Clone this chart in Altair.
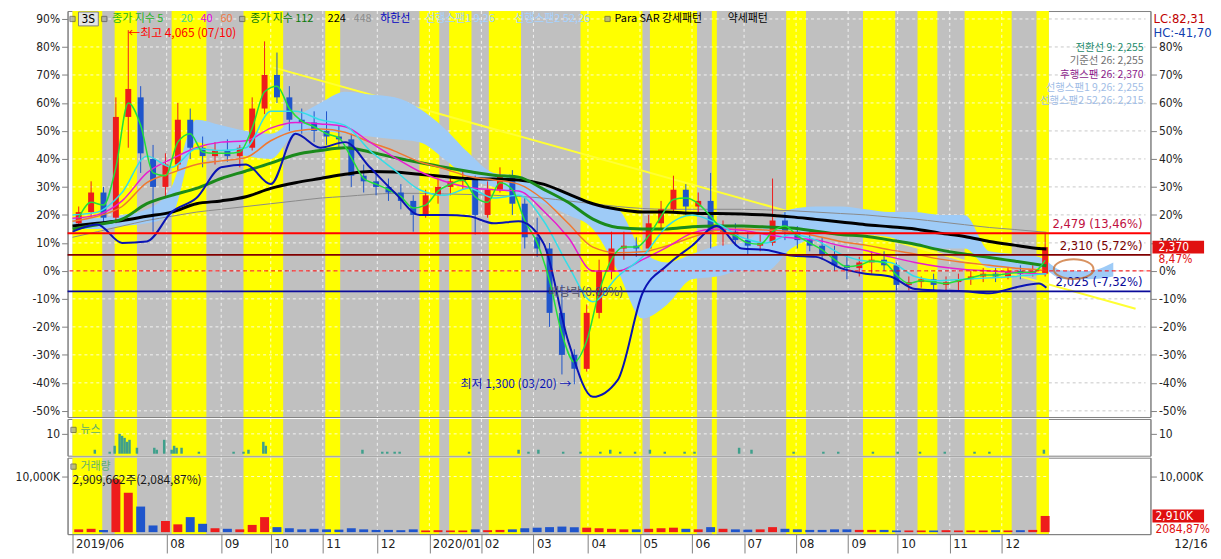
import altair as alt
import pandas as pd

# ---------------- layout ----------------
W, H1, H2, H3 = 1091, 409, 37, 77
LEFT_EXT, RIGHT_EXT = 59, 55
XDOM = [0, 433]
Y1DOM = [-52.2, 92.84]
Y2DOM = [-1, 17.5]
Y3DOM = [-357, 13393]
AX_FONT = "Liberation Sans Narrow, DejaVu Sans Condensed, Liberation Sans, sans-serif"
KR_FONT = "Noto Sans CJK KR"

# ---------------- data (percent vs base price 2,185) ----------------
candle_open = [17, 21, 28, 19, 55, 62, 40, 30, 38, 54, 44, 41, 43, 41, 44, 58, 70, 62, 54, 53,
               50, 48, 47, 34, 32, 30, 28, 25, 20, 27, 30, 32, 33, 20, 29, 34, 24, 12, 8, -15,
               -30, -35, -15, 0, 8, 9, 8, 17, 22, 29, 23, 25, 14, 14, 11, 9, 10, 18, 14, 11,
               9, 6, 2, 1, 3, 4, 2, -5, -4, -3, -5, -4, -3, -2, -1, -2, 0, -1, -1]
candle_high = [23, 32, 30, 62, 86, 66, 45, 42, 60, 58, 48, 46, 47, 45, 62, 82, 78, 66, 58, 57,
               57, 52, 49, 38, 36, 33, 31, 27, 29, 33, 34, 36, 34, 32, 37, 36, 26, 19, 10, -5,
               -28, -12, 4, 14, 14, 12, 20, 25, 34, 31, 28, 35, 18, 17, 14, 13, 33, 21, 16, 14,
               12, 9, 6, 5, 7, 7, 3, -2, -2, -1, -2, -1, 0, 1, 1, 1, 2, 2, 13.46]
candle_low = [15, 19, 17, 17, 44, 35, 14, 26, 36, 40, 37, 38, 39, 37, 43, 56, 60, 50, 49, 46,
              45, 44, 30, 28, 27, 25, 22, 14, 19, 24, 27, 29, 13, 19, 28, 20, 8, 5, -20, -37,
              -40.5, -36, -17, -3, 4, 5, 7, 15, 21, 20, 20, 8, 9, 9, 6, 7, 9, 11, 8, 7,
              4, 0, -3, -2, -1, 0, -7, -7, -6, -7, -7, -7, -5, -4, -4, -3, -3, -2, -2]
candle_close = [21, 28, 19, 55, 65, 42, 30, 38, 54, 44, 41, 43, 41, 44, 58, 70, 62, 54, 53, 50,
                48, 47, 34, 32, 30, 28, 25, 20, 27, 30, 32, 33, 20, 29, 34, 24, 12, 8, -15, -30,
                -35, -15, 0, 8, 9, 8, 17, 22, 29, 23, 25, 14, 15, 11, 9, 10, 18, 14, 11, 9,
                6, 2, 1, 3, 4, 2, -5, -4, -3, -5, -4, -3, -2, -1, -2, 0, -1, 0, 8.47]
volume_k = [500, 600, 400, 9500, 7100, 4600, 1200, 2000, 1400, 2700, 1500, 700, 600, 500, 1300, 2700, 900, 700, 500, 600,
            500, 450, 700, 500, 400, 400, 350, 500, 300, 350, 300, 300, 500, 350, 400, 500, 700, 800, 900, 1000,
            900, 800, 700, 600, 500, 500, 600, 700, 800, 600, 500, 900, 600, 500, 450, 500, 900, 600, 500, 400,
            400, 500, 500, 400, 400, 400, 300, 300, 300, 300, 350, 300, 300, 300, 350, 300, 350, 400, 2910]
week_t = [5 * k + 2.5 for k in range(len(candle_open))]

ma_t = list(range(0, 391, 10)) + [393]
ma20 = [20, 21, 28, 41, 37, 43.6, 43, 44, 57, 57, 54, 52, 43, 36, 29, 27, 29.5, 26, 27, 18,
        2, -11, -2, 5, 16, 20, 17, 12, 10, 13, 11, 6, 3.5, 3, -2, -3.5, -3, -2.5, -2, -1.2, -1]
ma40 = [18.8, 20, 25, 35, 40, 44, 46, 46.5, 51, 53, 52.5, 51.5, 46, 40.5, 35.5, 32, 29.8, 29, 28.5, 21.5,
        12, 0, 0, 4, 8.5, 13.5, 15, 14.5, 13, 11.8, 11, 9, 7.3, 5, 3, 1.5, 0.5, 0, -0.5, -1, -1]
ma60 = [17.7, 19.5, 23, 31.5, 35, 38, 39.3, 40.5, 46.5, 50, 50.7, 49.5, 46, 42.8, 39, 36.5, 33.7, 32.5, 31, 25.5,
        17, 8.5, 6.5, 6.8, 9, 12, 14.5, 15, 14.6, 14, 12.5, 10.5, 9.2, 7.5, 6, 4.2, 3, 2, 1, 0.3, 0]
ma112 = [15, 16.5, 18.5, 24, 27, 29.5, 33, 35.7, 38.5, 41.5, 43, 44, 42.5, 40.5, 38.7, 37, 35.5, 34.2, 33.5, 29.2,
         24.5, 18.5, 15.5, 15, 15, 15.8, 16, 16, 15.7, 15.3, 14.2, 13, 12.4, 11, 9.5, 7.5, 6, 4.8, 3.5, 2.2, 1.8]
ma224 = [16, 17, 18, 19.5, 21, 24, 25, 26.5, 29.5, 31.5, 33, 34.5, 35.5, 35.3, 34.5, 33.7, 33, 32.8, 32.5, 31,
         27.5, 24, 22, 21, 21, 20.6, 20.5, 20.3, 20, 19.3, 18.4, 17.5, 16.5, 15.8, 15, 13.5, 12.3, 10.5, 9.2, 8, 7.8]
ma448 = [12, 14, 16, 18, 19.5, 21, 22, 23, 24, 25, 26, 26.6, 27.3, 27.7, 27.7, 27.5, 27.3, 27, 26.6, 26,
         25, 24, 23, 22.3, 22, 22, 22, 22, 21.8, 21.5, 21, 20.5, 20, 19.2, 18.5, 17.5, 16.5, 15.5, 14.8, 14, 13.8]
lower_band = [14, 16.6, 10, 10.5, 21, 26, 37, 38, 31, 49, 44, 46, 37, 28, 20, 20, 19.5, 17, 17.7, 10,
              -25, -45, -39, -8, 2, 9, 16, 8, 7.5, 5.5, 5, 1, -1, -2, -6.5, -7, -7.3, -8, -6, -4.5, -6]

cloud_t = list(range(0, 421, 10))
span_a = [19, 19, 20, 22, 30, 54, 52, 50, 49, 55, 60, 64, 63, 62, 58, 51, 42, 35, 34, 30,
          28, 24, 22, 7, 3, 6, 9, 10, 16, 22, 23, 23, 22, 21, 21, 20, 20, 7, 6, 5, 0, 0, 3]
span_b = [15, 15, 16, 17, 20, 46, 43, 41, 40, 49, 50, 49, 48, 47, 46, 40, 33, 30, 27, 24,
          20, 15, 0, -17, -12, -3, -2, 0, 0, 8, 12, 14, 13, 12, 9, 8, 8, 1, 1, 1, -3, -3, -2]

trend_t = [81, 429]
trend_p = [72.7, -13.5]

news_t = [9, 15, 17, 19, 20, 21, 22, 23, 26, 33, 34, 37, 40, 41, 42, 44, 51, 65, 69, 71,
          77, 78, 117, 125, 127, 130, 132, 160, 180, 184, 188, 198, 205, 213, 217, 221, 227, 233, 239, 247,
          251, 269, 274, 291, 303, 309, 323, 333, 342, 352, 364, 370, 392]
news_n = [2, 1, 4, 10, 9, 8, 6, 7, 3, 3, 2, 7, 2, 4, 3, 3, 1, 1, 1, 2,
          6, 4, 2, 1, 1, 1, 1, 1, 2, 1, 2, 1, 1, 1, 2, 1, 1, 2, 1, 1,
          1, 3, 2, 1, 1, 1, 1, 1, 1, 1, 1, 1, 2]

yellow_start = [0, 17, 40, 69, 102, 140, 152, 168, 205, 233, 258, 288, 319, 341, 360, 389]
yellow_end = [12, 26, 54, 85, 108, 148, 161, 181, 230, 252, 260, 296, 332, 349, 379, 394]
data_end = 394

pct_ticks = [90, 80, 70, 60, 50, 40, 30, 20, 10, 0, -10, -20, -30, -40, -50]
right_ticks = [80, 70, 60, 50, 40, 30, 20, 10, 0, -10, -20, -30, -40, -50]
month_ticks = [0, 38, 60, 80, 101, 123, 144, 165, 186, 208, 229, 250, 271, 292, 313, 333, 354, 375]
month_labels = ["2019/06", "08", "09", "10", "11", "12", "2020/01", "02", "03", "04", "05", "06",
                "07", "08", "09", "10", "11", "12"]

level_pct = [13.46, 5.72, -7.32]
level_text = ["2,479 (13,46%)", "2,310 (5,72%)", "2,025 (-7,32%)"]
last_pct = [8.47]
last_vol = [2910]

for lst in (candle_high, candle_low, candle_close, volume_k):
    assert len(lst) == len(candle_open)
for lst in (ma20, ma40, ma60, ma112, ma224, ma448, lower_band):
    assert len(lst) == len(ma_t)
assert len(span_a) == len(cloud_t) == len(span_b)
assert len(news_t) == len(news_n)

# ---------------- frames ----------------
df_c = pd.DataFrame({"t": week_t, "o": candle_open, "h": candle_high, "l": candle_low,
                     "c": candle_close, "v": volume_k})
df_c["dir"] = ["up" if c >= o else "down" for o, c in zip(candle_open, candle_close)]
df_ma = pd.DataFrame({"t": ma_t, "ma20": ma20, "ma40": ma40, "ma60": ma60, "ma112": ma112,
                      "ma224": ma224, "ma448": ma448, "low": lower_band})
df_cloud = pd.DataFrame({"t": cloud_t, "a": span_a, "b": span_b})
df_trend = pd.DataFrame({"t": trend_t, "p": trend_p})
df_news = pd.DataFrame({"t": news_t, "n": news_n, "z": 0})
df_gray = pd.DataFrame({"s": [0], "e": [data_end]})
df_yel = pd.DataFrame({"s": yellow_start, "e": yellow_end})
df_month = pd.DataFrame({"t": month_ticks[1:]})
df_hg = pd.DataFrame({"p": pct_ticks, "x0": 0, "x1": data_end, "x2": XDOM[1]})
ONE = pd.DataFrame({"k": [0]})

xs = alt.Scale(domain=XDOM, nice=False, zero=False)
dir_color = alt.Scale(domain=["up", "down"], range=["#EE1C1C", "#1F55CC"])


def yaxis(orient, values, expr, ext):
    return alt.Axis(orient=orient, values=values, labelExpr=expr, tickSize=6, tickColor="#808080",
                    domainColor="#808080", labelColor="#222222", labelFont=AX_FONT, labelFontSize=12,
                    labelPadding=2, minExtent=ext, maxExtent=ext, grid=False, title=None, labelOverlap=False)


month_expr = "".join(f"datum.value == {t} ? '{l}' : " for t, l in zip(month_ticks, month_labels)) + "''"
x_axis_bottom = alt.Axis(orient="bottom", values=month_ticks, labelExpr=month_expr, tickSize=19,
                         tickColor="#808080", domainColor="#808080", labelAlign="left", labelBaseline="top",
                         labelPadding=-16, labelOffset=3, labelFont=AX_FONT, labelFontSize=13, labelColor="#222222",
                         labelOverlap=False, labelBound=False, labelFlush=False, grid=False,
                         minExtent=19, maxExtent=19, title=None)

# per panel scale + axis (every layer of a panel uses the identical definition so axes merge)
PANEL = {
    "main": dict(ys=alt.Scale(domain=Y1DOM, nice=False, zero=False),
                 yl=yaxis("left", pct_ticks, "datum.value + '%'", LEFT_EXT),
                 yr=yaxis("right", right_ticks, "datum.value + '%'", RIGHT_EXT), xa=None),
    "news": dict(ys=alt.Scale(domain=Y2DOM, nice=False, zero=False),
                 yl=yaxis("left", [10], "'10'", LEFT_EXT),
                 yr=yaxis("right", [10], "'10'", RIGHT_EXT), xa=None),
    "vol": dict(ys=alt.Scale(domain=Y3DOM, nice=False, zero=False),
                yl=yaxis("left", [10000], "'10,000K'", LEFT_EXT),
                yr=yaxis("right", [10000], "'10,000K'", RIGHT_EXT), xa=x_axis_bottom),
}


def XQ(f, panel):
    return alt.X(f, type="quantitative", scale=xs, axis=PANEL[panel]["xa"], title=None)


def YQ(f, panel):
    return alt.Y(f, type="quantitative", scale=PANEL[panel]["ys"], axis=PANEL[panel]["yl"], title=None)


def txt(s, x, y, color, size=11, align="left", font=KR_FONT):
    return alt.Chart(ONE).mark_text(text=s, align=align, baseline="middle", font=font,
                                    fontSize=size, color=color).encode(x=alt.value(x), y=alt.value(y))


def icon(x, y):
    return alt.Chart(ONE).mark_point(shape="square", size=28, filled=True, color="#A0A0A0",
                                     stroke="#505050", strokeWidth=1).encode(x=alt.value(x), y=alt.value(y))


def background(H, panel):
    gray = alt.Chart(df_gray).mark_rect(color="#C0C0C0").encode(
        x=XQ("s", panel), x2="e", y=alt.value(0), y2=alt.value(H))
    yel = alt.Chart(df_yel).mark_rect(color="#FFFF00").encode(
        x=XQ("s", panel), x2="e", y=alt.value(0), y2=alt.value(H))
    vg = alt.Chart(df_month).mark_rule(color="#FFFFFF", strokeDash=[3, 3], opacity=0.8).encode(
        x=XQ("t", panel))
    return [gray, yel, vg]


def right_axis(values, panel):
    return alt.Chart(pd.DataFrame({"p": values})).mark_rule(opacity=0).encode(
        y=alt.Y("p", type="quantitative", scale=PANEL[panel]["ys"], axis=PANEL[panel]["yr"], title=None))


# ---------------- main panel ----------------
P = "main"
main_layers = background(H1, P)
main_layers.append(alt.Chart(df_hg).mark_rule(color="#FFFFFF", strokeDash=[3, 3], opacity=0.8).encode(
    x=XQ("x0", P), x2="x1", y=YQ("p", P)))
main_layers.append(alt.Chart(df_hg).mark_rule(color="#C8C8C8", strokeDash=[3, 3]).encode(
    x=XQ("x1", P), x2="x2", y=YQ("p", P)))
main_layers.append(alt.Chart(df_trend).mark_line(color="#FFFF33", strokeWidth=2).encode(
    x=XQ("t", P), y=YQ("p", P)))
main_layers.append(alt.Chart(df_cloud).mark_area(color="#9ECBF7", interpolate="monotone").encode(
    x=XQ("t", P), y=YQ("a", P), y2="b"))
main_layers.append(alt.Chart(df_ma).mark_line(color="#8A8A8A", strokeWidth=1, interpolate="monotone").encode(
    x=XQ("t", P), y=YQ("ma448", P)))
main_layers.append(alt.Chart(df_c).mark_rule(strokeWidth=1).encode(
    x=XQ("t", P), y=YQ("l", P), y2="h", color=alt.Color("dir:N", scale=dir_color, legend=None)))
main_layers.append(alt.Chart(df_c).mark_bar(size=6).encode(
    x=XQ("t", P), y=YQ("o", P), y2="c", color=alt.Color("dir:N", scale=dir_color, legend=None)))
for field, col, sw in [("ma224", "#000000", 3), ("ma112", "#1B8A1B", 3), ("ma60", "#F07830", 1.5),
                       ("ma40", "#E81CD0", 1.5), ("ma20", "#33DDE8", 1.5)]:
    main_layers.append(alt.Chart(df_ma).mark_line(color=col, strokeWidth=sw, interpolate="monotone").encode(
        x=XQ("t", P), y=YQ(field, P)))
main_layers.append(alt.Chart(df_c).transform_calculate(m="(datum.o + datum.c) / 2").mark_line(
    color="#22E03A", strokeWidth=1.5, interpolate="monotone").encode(x=XQ("t", P), y=YQ("m:Q", P)))
main_layers.append(alt.Chart(df_ma).mark_line(color="#0A14B4", strokeWidth=2, interpolate="monotone").encode(
    x=XQ("t", P), y=YQ("low", P)))

# level lines
for val, col, sw, dash in [(level_pct[0], "#FF0000", 2, None), (level_pct[1], "#800000", 2, None),
                           (0, "#FF0000", 1, [4, 3]), (level_pct[2], "#0A0A9A", 2, None)]:
    kw = dict(color=col, strokeWidth=sw)
    if dash:
        kw["strokeDash"] = dash
    main_layers.append(alt.Chart(pd.DataFrame({"p": [val]})).mark_rule(**kw).encode(y=YQ("p", P)))
for val, label, col in zip(level_pct, level_text, ["#C01040", "#7A0000", "#0A0A9A"]):
    main_layers.append(alt.Chart(pd.DataFrame({"p": [val]})).mark_text(
        text=label, align="right", baseline="middle", dy=-9, font=AX_FONT, fontSize=13, color=col).encode(
        x=alt.value(W - 8), y=YQ("p", P)))

# annotations anchored to data
ih = candle_high.index(max(candle_high))
il = candle_low.index(min(candle_low))
main_layers.append(alt.Chart(pd.DataFrame({"t": [week_t[ih]], "p": [candle_high[ih]]})).mark_text(
    text="←최고 4,065 (07/10)", align="left", baseline="middle", dx=0, dy=3, font=KR_FONT, fontSize=12,
    color="#FF0000").encode(x=XQ("t", P), y=YQ("p", P)))
main_layers.append(alt.Chart(pd.DataFrame({"t": [week_t[il]], "p": [candle_low[il]]})).mark_text(
    text="최저 1,300 (03/20) →", align="right", baseline="middle", dx=-3, font=KR_FONT, fontSize=12,
    color="#0A14B4").encode(x=XQ("t", P), y=YQ("p", P)))
main_layers.append(alt.Chart(pd.DataFrame({"t": [192], "p": [-7.6]})).mark_text(
    text="배당락(0.00%)", align="left", baseline="middle", font=KR_FONT, fontSize=12,
    color="#505068").encode(x=XQ("t", P), y=YQ("p", P)))
main_layers.append(alt.Chart(pd.DataFrame({"t": [404], "p": [0.6]})).mark_point(
    shape="M -1 0 A 1 0.5 0 1 0 1 0 A 1 0.5 0 1 0 -1 0 Z", size=1600, filled=False,
    color="#C8641E", strokeWidth=2).encode(x=XQ("t", P), y=YQ("p", P)))

# last price box on right axis
main_layers.append(alt.Chart(pd.DataFrame({"p": last_pct})).transform_calculate(
    hi="datum.p + 2.3", lo="datum.p - 2.3").mark_rect(color="#E01010").encode(
    x=alt.value(W + 2), x2=alt.value(W + 54), y=YQ("hi:Q", P), y2="lo:Q"))
main_layers.append(alt.Chart(pd.DataFrame({"p": last_pct})).mark_text(
    text="2,370", align="left", baseline="middle", font=AX_FONT, fontSize=12, color="#FFFFFF").encode(
    x=alt.value(W + 8), y=YQ("p", P)))
main_layers.append(alt.Chart(pd.DataFrame({"p": last_pct})).mark_text(
    text="8,47%", align="left", baseline="middle", dy=12, font=AX_FONT, fontSize=12, color="#E01010").encode(
    x=alt.value(W + 8), y=YQ("p", P)))

# top legend
main_layers += [
    icon(5, 8),
    alt.Chart(ONE).mark_rect(color="#E4E4E4", stroke="#808080", strokeWidth=1).encode(
        x=alt.value(11), x2=alt.value(31), y=alt.value(1), y2=alt.value(15)),
    txt("3S", 14, 8, "#000000", 12, font=AX_FONT),
    icon(37, 8),
    txt("종가 지수 5", 45, 8, "#22B422"),
    txt("20", 114, 8, "#44D890"),
    txt("40", 134, 8, "#E000E0"),
    txt("60", 154, 8, "#F07840"),
    icon(176, 8),
    txt("종가 지수 112", 184, 8, "#0A7A0A"),
    txt("224", 262, 8, "#000000"),
    txt("448", 288, 8, "#8C8C8C"),
    txt("하한선", 315, 8, "#0000C0"),
    txt("선행스팬1 9,26", 360, 8, "#A6D2FF"),
    txt("선행스팬2 52,26", 450, 8, "#A6D2FF"),
    icon(544, 8),
    txt("Para SAR 강세패턴", 551, 8, "#000000"),
    txt("약세패턴", 665, 8, "#000000"),
    # ichimoku values, top right
    txt("전환선 9: 2,255", W - 7, 37, "#1A8A6A", 10.5, align="right"),
    txt("기준선 26: 2,255", W - 7, 50.5, "#707070", 10.5, align="right"),
    txt("후행스팬 26: 2,370", W - 7, 64, "#8B1A8B", 10.5, align="right"),
    txt("선행스팬1 9,26: 2,255", W - 7, 77.5, "#9FBDE6", 10.5, align="right"),
    txt("선행스팬2 52,26: 2,215", W - 7, 91, "#9FBDE6", 10.5, align="right"),
    txt("LC:82,31", W + 3, 8, "#C00000", 13, font=AX_FONT),
    txt("HC:-41,70", W + 3, 22, "#1040B0", 13, font=AX_FONT),
]

main = alt.layer(alt.layer(*main_layers), right_axis(right_ticks, P)).resolve_scale(
    y="independent").properties(width=W, height=H1)

# ---------------- news panel ----------------
P = "news"
news_layers = background(H2, P)
news_layers.append(alt.Chart(pd.DataFrame({"p": [10], "x0": 0, "x1": data_end})).mark_rule(
    color="#FFFFFF", strokeDash=[3, 3], opacity=0.8).encode(x=XQ("x0", P), x2="x1", y=YQ("p", P)))
news_layers.append(alt.Chart(df_news).mark_bar(size=2.5, color="#3FA08C").encode(
    x=XQ("t", P), y=YQ("n", P), y2="z"))
news_layers += [icon(6, 11), txt("뉴스", 13, 11, "#5FAE6E")]
news = alt.layer(alt.layer(*news_layers), right_axis([10], P)).resolve_scale(
    y="independent").properties(width=W, height=H2)

# ---------------- volume panel ----------------
P = "vol"
vol_layers = background(H3, P)
vol_layers.append(alt.Chart(pd.DataFrame({"p": [10000], "x0": 0, "x1": data_end})).mark_rule(
    color="#FFFFFF", strokeDash=[3, 3], opacity=0.8).encode(x=XQ("x0", P), x2="x1", y=YQ("p", P)))
vol_layers.append(alt.Chart(df_c).transform_calculate(z="0").mark_bar(size=9).encode(
    x=XQ("t", P), y=YQ("v", P), y2="z:Q", color=alt.Color("dir:N", scale=dir_color, legend=None)))
vol_layers += [
    icon(6, 9), txt("거래량", 13, 9, "#5FAE6E"),
    txt("2,909,662주(2,084,87%)", 5, 23, "#1A1A1A", 12),
    txt("12/16", W + 24, H3 + 10, "#222222", 13, font=AX_FONT),
]
vol_layers.append(alt.Chart(pd.DataFrame({"v": last_vol})).transform_calculate(
    hi="datum.v + 1160", lo="datum.v - 1160").mark_rect(color="#E01010").encode(
    x=alt.value(W + 2), x2=alt.value(W + 54), y=YQ("hi:Q", P), y2="lo:Q"))
vol_layers.append(alt.Chart(pd.DataFrame({"v": last_vol})).mark_text(
    text="2,910K", align="left", baseline="middle", font=AX_FONT, fontSize=12, color="#FFFFFF").encode(
    x=alt.value(W + 5), y=YQ("v", P)))
vol_layers.append(alt.Chart(pd.DataFrame({"v": last_vol})).mark_text(
    text="2084,87%", align="left", baseline="middle", dy=13, font=AX_FONT, fontSize=12, color="#E01010").encode(
    x=alt.value(W + 5), y=YQ("v", P)))
vol = alt.layer(alt.layer(*vol_layers), right_axis([10000], P)).resolve_scale(
    y="independent").properties(width=W, height=H3)

chart = alt.vconcat(main, news, vol, spacing=0).properties(
    padding=0, background="#FFFFFF").configure_view(stroke="#808080", strokeWidth=1)

chart.save("out.html", embed_options={"renderer": "svg", "actions": False})
